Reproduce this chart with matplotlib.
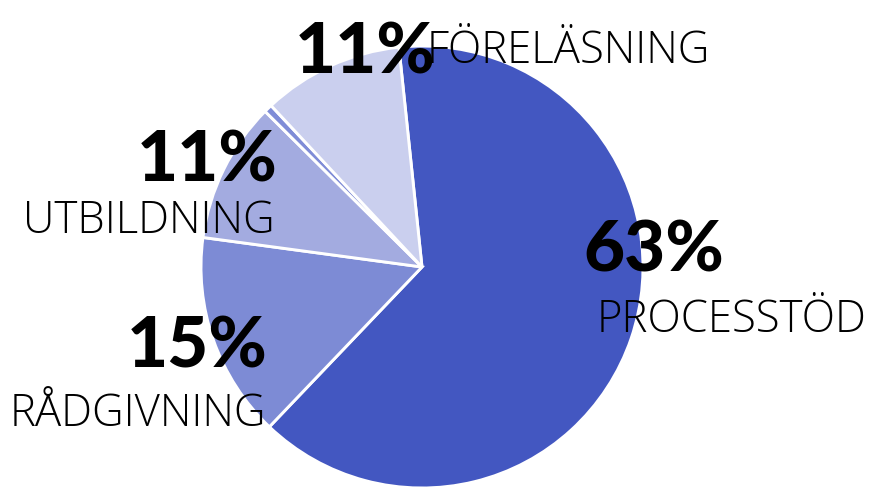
import matplotlib.pyplot as plt

# slice data (clockwise from the top)
categories = ['PROCESSTÖD', 'RÅDGIVNING', 'UTBILDNING', '', 'FÖRELÄSNING']
values = [63.8, 15.0, 10.3, 0.6, 10.3]
pct_labels = ['63%', '15%', '11%', '', '11%']
colors = ['#4357c1', '#7d8bd5', '#a3abe0', '#7f8cd7', '#cacfee']

W, H = 873, 488
fig = plt.figure(figsize=(W / 100, H / 100), dpi=100)
ax = fig.add_axes([0, 0, 1, 1])

ax.pie(values, colors=colors, startangle=96, counterclock=False,
       center=(422, H - 267), radius=221, frame=True,
       wedgeprops=dict(edgecolor='white', linewidth=2.1))
ax.set_xlim(0, W)
ax.set_ylim(0, H)
ax.set_aspect('equal')
ax.axis('off')

# label positions in pixels (centre x, baseline y from top)
pct_pos = [(654, 272), (197, 368), (207, 182), None, (365, 74)]
cat_pos = [(732, 332), (138, 426), (149, 233), None, (568, 63)]

for i in range(len(categories)):
    if pct_pos[i] is None:
        continue
    px, py = pct_pos[i]
    ax.text(px, H - py, pct_labels[i], ha='center', va='baseline',
            fontsize=51, fontfamily='Lato', fontweight='black', color='black', zorder=5)
    cx, cy = cat_pos[i]
    ax.text(cx, H - cy, categories[i], ha='center', va='baseline',
            fontsize=31.5, fontfamily='Open Sans', fontweight='light', color='black', zorder=5)

fig.savefig('out.png', dpi=100)
